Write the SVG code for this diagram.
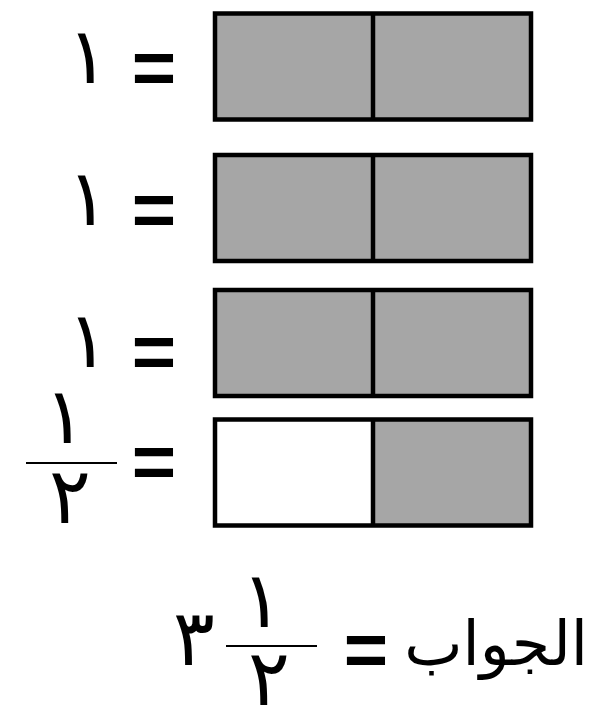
<svg xmlns="http://www.w3.org/2000/svg" width="616" height="711" viewBox="0 0 616 711">
<style>
.box{fill:#a6a6a6;stroke:#000;stroke-width:4.5}
.div{stroke:#000;stroke-width:4.5}
.num{font-family:"DejaVu Sans",sans-serif;font-size:78px;fill:#000;text-anchor:middle}
.eq{font-family:"Liberation Sans",Arial,sans-serif;font-weight:bold;font-size:76px;fill:#000;text-anchor:middle}
.ar{font-family:"DejaVu Sans",sans-serif;font-size:62px;fill:#000}
.bar{stroke:#000;stroke-width:2}
</style>
<rect width="616" height="711" fill="#fff"/>
<g id="row1">
<text class="num" x="88" y="83">١</text>
<text class="eq" x="154" y="94">=</text>
<rect class="box" x="215" y="13.5" width="316" height="106"/>
<line class="div" x1="373" y1="13.5" x2="373" y2="119.5"/>
</g>
<g id="row2">
<text class="num" x="88" y="225">١</text>
<text class="eq" x="154" y="236">=</text>
<rect class="box" x="215" y="155" width="316" height="106"/>
<line class="div" x1="373" y1="155" x2="373" y2="261"/>
</g>
<g id="row3">
<text class="num" x="88" y="367">١</text>
<text class="eq" x="154" y="378">=</text>
<rect class="box" x="215" y="290" width="316" height="106"/>
<line class="div" x1="373" y1="290" x2="373" y2="396"/>
</g>
<g id="row4">
<text class="num" x="65" y="443">١</text>
<line class="bar" x1="26" y1="463" x2="117" y2="463"/>
<text class="num" x="70" y="523">٢</text>
<text class="eq" x="154" y="488">=</text>
<rect x="215" y="419.5" width="158" height="106" fill="#fff"/>
<rect x="373" y="419.5" width="158" height="106" fill="#a6a6a6"/>
<rect x="215" y="419.5" width="316" height="106" fill="none" stroke="#000" stroke-width="4.5"/>
<line class="div" x1="373" y1="419.5" x2="373" y2="525.5"/>
</g>
<g id="answer">
<text class="ar" x="588" y="665" text-anchor="end">الجواب</text>
<text class="eq" x="366" y="676">=</text>
<line class="bar" x1="226" y1="646" x2="317" y2="646"/>
<text class="num" x="262" y="627">١</text>
<text class="num" x="269" y="705">٢</text>
<text class="num" x="194" y="665">٣</text>
</g>
</svg>
